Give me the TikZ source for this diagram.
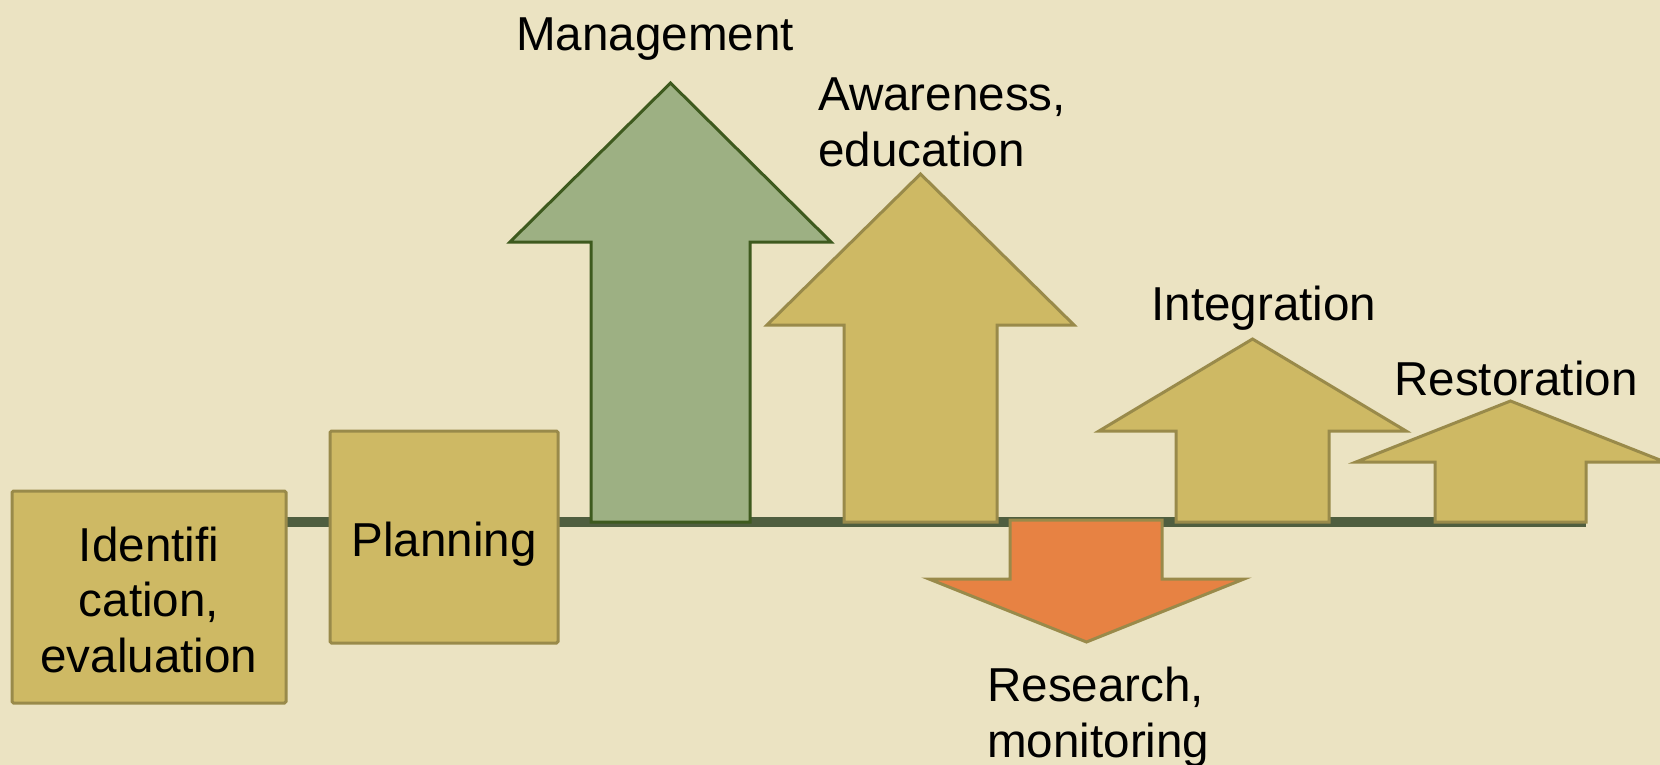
\documentclass[tikz,border=0pt]{standalone}
\usepackage{fontspec}
\setmainfont{Liberation Sans}
\definecolor{bgc}{HTML}{EBE3C2}
\definecolor{tanfill}{HTML}{CEB964}
\definecolor{tanline}{HTML}{998A4A}
\definecolor{greenfill}{HTML}{9DB083}
\definecolor{greenline}{HTML}{3E5A1E}
\definecolor{redfill}{HTML}{E78243}
\definecolor{axisc}{HTML}{4F5E3F}
\begin{document}
\begin{tikzpicture}[x=1pt,y=-1pt,
  box/.style={draw=tanline, fill=tanfill, line width=3pt, inner sep=0pt, rounded corners=1.5pt},
  tanarrow/.style={draw=tanline, fill=tanfill, line width=3pt},
  greenarrow/.style={draw=greenline, fill=greenfill, line width=3pt},
  redarrow/.style={draw=tanline, fill=redfill, line width=3pt},
  axis/.style={draw=axisc, line width=10pt},
  lbl/.style={inner sep=0pt, anchor=base, font=\fontsize{47.6}{55}\selectfont}]
\fill[bgc] (0,0) rectangle (1660,765);
\useasboundingbox (0,0) rectangle (1660,765);
% timeline (drawn first, behind everything)
\coordinate (axisstart) at (286,522);
\coordinate (axisend) at (1586,522);
\draw[axis] (axisstart) -- (axisend);
% boxes
\node[box, minimum width=274pt, minimum height=212pt] (ident) at (149,597) {};
\node[box, minimum width=228pt, minimum height=212pt] (plan) at (444,537) {};
% up arrows
\draw[greenarrow] (591,522) -- (591,242) -- (510,242) -- (670.5,83) -- (831,242) -- (750,242) -- (750,522) -- cycle;
\draw[tanarrow] (844,522) -- (844,325) -- (767,325) -- (920.5,174) -- (1074,325) -- (997,325) -- (997,522) -- cycle;
\draw[redarrow] (1010,520) -- (1162,520) -- (1162,579) -- (1244,579) -- (1086.5,642) -- (929,579) -- (1010,579) -- cycle;
\draw[tanarrow] (1176,522) -- (1176,431) -- (1099,431) -- (1252.5,339) -- (1406,431) -- (1329,431) -- (1329,522) -- cycle;
\draw[tanarrow] (1435,522) -- (1435,462) -- (1356,462) -- (1510.5,401) -- (1665,462) -- (1586,462) -- (1586,522) -- cycle;
% labels
\node[lbl] (t1) at (149,561) {Identifi};
\node[lbl] (t2) at (149,616) {cation,};
\node[lbl] (t3) at (149,672) {evaluation};
\node[lbl] (tplan) at (444,556) {Planning};
\node[lbl] (tman) at (655,51) {Management};
\node[lbl, anchor=base west] (taw1) at (818,111) {Awareness,};
\node[lbl, anchor=base west] (taw2) at (818,166) {education};
\node[lbl] (tint) at (1264,320) {Integration};
\node[lbl] (tres) at (1516,395) {Restoration};
\node[lbl, anchor=base west] (tr1) at (987,701) {Research,};
\node[lbl, anchor=base west] (tr2) at (987,757) {monitoring};
\end{tikzpicture}
\end{document}
